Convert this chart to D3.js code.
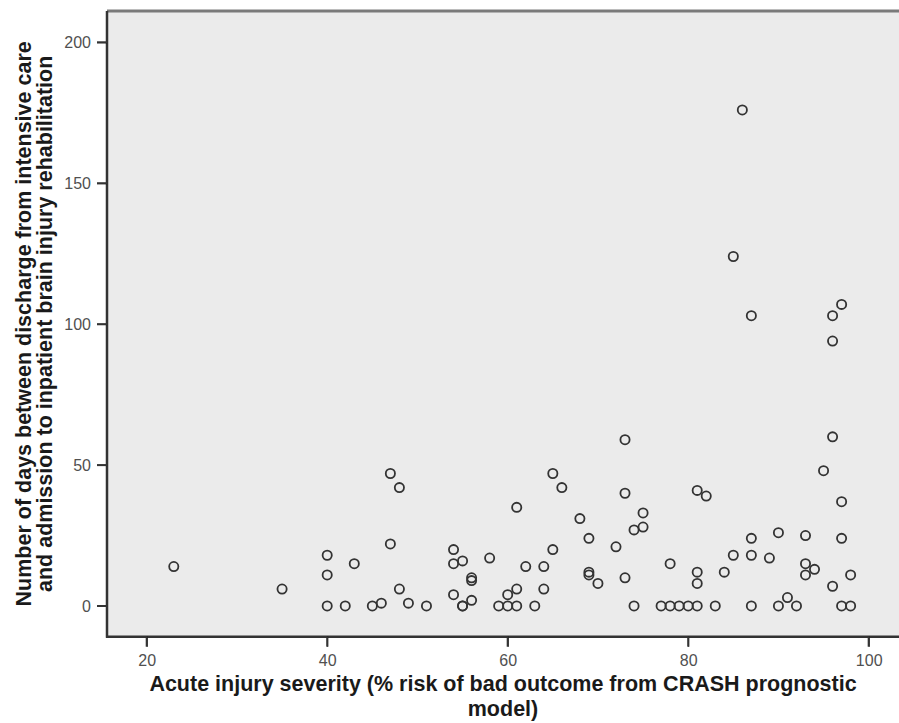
<!DOCTYPE html>
<html>
<head>
<meta charset="utf-8">
<script src="https://cdn.jsdelivr.net/npm/d3@7"></script>
<style>
  body { margin: 0; background: #fff; }
  svg { display: block; }
  .tick text { font-family: "Liberation Sans", Arial, sans-serif; font-size: 16px; fill: #505050; }
  .title { font-family: "Liberation Sans", Arial, sans-serif; font-size: 21.5px; font-weight: bold; fill: #1a1a1a; }
</style>
</head>
<body>
<div class="container"></div>
<script>
// CRASH % risk of bad outcome
const severity = [23, 35, 40, 40, 40, 42, 43, 45, 46, 47, 47, 48, 48, 49, 51, 54, 54, 54, 55, 55, 55,
  56, 56, 56, 58, 59, 60, 60, 61, 61, 61, 62, 63, 64, 64, 65, 65, 66, 68, 69, 69, 69, 70, 72,
  73, 73, 73, 74, 74, 75, 75, 77, 78, 78, 79, 80, 81, 81, 81, 81, 82, 83, 84, 85, 85, 86,
  87, 87, 87, 87, 89, 90, 90, 91, 92, 93, 93, 93, 94, 95, 96, 96, 96, 96, 97, 97, 97, 97, 98, 98];
// days from ICU discharge to rehab admission
const days = [14, 6, 18, 11, 0, 0, 15, 0, 1, 47, 22, 42, 6, 1, 0, 20, 15, 4, 16, 0, 0,
  10, 9, 2, 17, 0, 4, 0, 35, 6, 0, 14, 0, 14, 6, 47, 20, 42, 31, 24, 12, 11, 8, 21,
  59, 40, 10, 27, 0, 33, 28, 0, 15, 0, 0, 0, 41, 12, 8, 0, 39, 0, 12, 124, 18, 176,
  103, 24, 18, 0, 17, 26, 0, 3, 0, 25, 15, 11, 13, 48, 103, 94, 60, 7, 107, 37, 24, 0, 11, 0];

const xTicks = [20, 40, 60, 80, 100];
const yTicks = [0, 50, 100, 150, 200];

const xLabel = "Acute injury severity (% risk of bad outcome from CRASH prognostic";
const xLabel2 = "model)";
const yLabel = "Number of days between discharge from intensive care";
const yLabel2 = "and admission to inpatient brain injury rehabilitation";

const W = 899, H = 723;
const pLeft = 107, pRight = 899, pTop = 11, pBottom = 636.7;
const tickLen = 10;

const points = severity.map((s, i) => ({ s: s, d: days[i] }));

let svg = d3.select('.container').append('svg')
  .attr('width', W)
  .attr('height', H);

let x = d3.scaleLinear().domain([15.6, 103.36]).range([pLeft, pRight]);
let y = d3.scaleLinear().domain([-10.9, 211.1]).range([pBottom, pTop]);

// plot background
svg.append('rect')
  .attr('x', pLeft).attr('y', pTop)
  .attr('width', pRight - pLeft).attr('height', pBottom - pTop)
  .attr('fill', '#ebebeb');

// top frame line
svg.append('line')
  .attr('x1', pLeft).attr('x2', pRight)
  .attr('y1', pTop).attr('y2', pTop)
  .attr('stroke', '#7a7a7a').attr('stroke-width', 3);

// axes (labels from d3, tick marks drawn below)
let xAxis = d3.axisBottom(x).tickValues(xTicks).tickSizeInner(tickLen).tickSizeOuter(0).tickPadding(8);
let yAxis = d3.axisLeft(y).tickValues(yTicks).tickSizeInner(tickLen).tickSizeOuter(0).tickPadding(6);

let gx = svg.append('g')
  .attr('transform', 'translate(0,' + pBottom + ')')
  .call(xAxis);
let gy = svg.append('g')
  .attr('transform', 'translate(' + pLeft + ',0)')
  .call(yAxis);

[gx, gy].forEach(g => {
  g.select('.domain').attr('stroke', '#333').attr('stroke-width', 2.5);
});
gx.select('.domain').attr('d', 'M' + (pLeft - 1) + ',0H' + pRight);
gy.select('.domain').attr('d', 'M0,' + pTop + 'V' + (pBottom + 1));

// tick marks
let marks = svg.append('g').attr('stroke', '#333').attr('stroke-width', 2);
marks.selectAll('line.xt')
  .data(xTicks)
  .enter().append('line')
    .attr('class', 'xt')
    .attr('x1', d => x(d)).attr('x2', d => x(d))
    .attr('y1', pBottom).attr('y2', pBottom + tickLen);
marks.selectAll('line.yt')
  .data(yTicks)
  .enter().append('line')
    .attr('class', 'yt')
    .attr('x1', pLeft - tickLen).attr('x2', pLeft)
    .attr('y1', d => y(d)).attr('y2', d => y(d));

// points
svg.append('g').selectAll('circle')
  .data(points)
  .enter().append('circle')
    .attr('cx', d => x(d.s))
    .attr('cy', d => y(d.d))
    .attr('r', 4.6)
    .attr('fill', 'none')
    .attr('stroke', '#333')
    .attr('stroke-width', 1.8);

// axis titles
let cx = (pLeft + pRight) / 2;
svg.append('text').attr('class', 'title')
  .attr('x', cx).attr('y', 691)
  .attr('text-anchor', 'middle')
  .text(xLabel);
svg.append('text').attr('class', 'title')
  .attr('x', cx).attr('y', 716)
  .attr('text-anchor', 'middle')
  .text(xLabel2);

let cy = (pTop + pBottom) / 2;
svg.append('text').attr('class', 'title')
  .attr('transform', 'translate(31,' + cy + ') rotate(-90)')
  .attr('text-anchor', 'middle')
  .text(yLabel);
svg.append('text').attr('class', 'title')
  .attr('transform', 'translate(52,' + cy + ') rotate(-90)')
  .attr('text-anchor', 'middle')
  .text(yLabel2);
</script>
</body>
</html>
